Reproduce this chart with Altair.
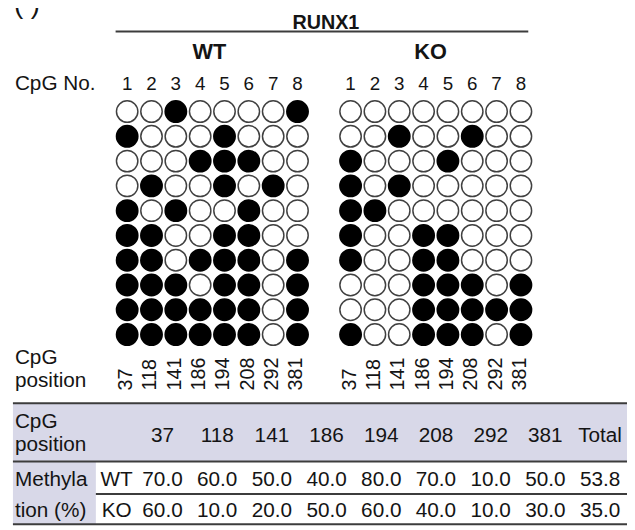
import altair as alt
import pandas as pd

# ---------------- data ----------------
gene = "RUNX1"
groups = ["WT", "KO"]
cpg_no = [1, 2, 3, 4, 5, 6, 7, 8]
cpg_position = ["37", "118", "141", "186", "194", "208", "292", "381"]
# one string per sequenced clone, 1 = methylated CpG (filled), 0 = unmethylated (open)
wt_clones = ["00100001", "10001000", "00011100", "01001010", "10100100",
             "11001100", "11011101", "11101101", "11111101", "11111101"]
ko_clones = ["00000000", "00100100", "10001000", "10100000", "11000000",
             "10011000", "10011000", "00011101", "00011111", "10011101"]
wt_methylation = [70.0, 60.0, 50.0, 40.0, 80.0, 70.0, 10.0, 50.0]
ko_methylation = [60.0, 10.0, 20.0, 50.0, 60.0, 40.0, 10.0, 30.0]
wt_total = 53.8
ko_total = 35.0

# ---------------- layout ----------------
W, H = 627, 522
OFF = 8  # page margin: reference pixel -> chart pixel


def P(v):
    return v - OFF


FONT = "Liberation Sans"
INK = "#141414"
LAV = "#d8d8e8"
LINE = "#3c3c3c"

XS = alt.Scale(domain=[0, W], range=[0, W], nice=False, zero=False)
YS = alt.Scale(domain=[0, H], range=[0, H], nice=False, zero=False)

dot_x0 = {"WT": 128.7, "KO": 355.0}
DX, DY = 24.65, 25.1
DOT_Y0 = 109.5
TAB_X0, TAB_DX = 164.5, 55.4


def xy(extra=None):
    d = dict(x=alt.X("x:Q", scale=XS, axis=None), y=alt.Y("y:Q", scale=YS, axis=None))
    if extra:
        d.update(extra)
    return d


# dots
dot_rows = []
for g, clones in (("WT", wt_clones), ("KO", ko_clones)):
    for j, pat in enumerate(clones):
        for i, ch in enumerate(pat):
            dot_rows.append(dict(group=g, cpg=cpg_no[i], clone=j + 1, m=int(ch),
                                 x=P(dot_x0[g] + i * DX), y=P(DOT_Y0 + j * DY)))
dots_df = pd.DataFrame(dot_rows)

num_rows, pos_rows = [], []
for g in groups:
    for i, n in enumerate(cpg_no):
        num_rows.append(dict(x=P(dot_x0[g] + i * DX), y=P(88), text=str(n)))
        pos_rows.append(dict(x=P(dot_x0[g] + i * DX - 1), y=P(392), text=cpg_position[i]))
num_df = pd.DataFrame(num_rows)
pos_df = pd.DataFrame(pos_rows)

# table
hdr = cpg_position + ["Total"]
tab_hdr_df = pd.DataFrame([dict(x=P(TAB_X0 + i * TAB_DX), y=P(444), text=t) for i, t in enumerate(hdr)])
val_rows = []
for g, vals, tot, yb in (("WT", wt_methylation, wt_total, 489), ("KO", ko_methylation, ko_total, 520)):
    for i, v in enumerate(vals + [tot]):
        val_rows.append(dict(group=g, x=P(TAB_X0 + i * TAB_DX), y=P(yb), v=v))
val_df = pd.DataFrame(val_rows)
rowlab_df = pd.DataFrame([dict(x=P(118), y=P(489), text="WT"), dict(x=P(118), y=P(520), text="KO")])

left_df = pd.DataFrame([
    dict(x=P(15), y=P(88), text="CpG No."),
    dict(x=P(15), y=P(365), text="CpG"),
    dict(x=P(15), y=P(389), text="position"),
    dict(x=P(15), y=P(430), text="CpG"),
    dict(x=P(15), y=P(453), text="position"),
    dict(x=P(15), y=P(489), text="Methyla"),
    dict(x=P(15), y=P(520), text="tion (%)"),
])

title_df = pd.DataFrame([dict(x=P(330), y=P(26), text=gene)])
grp_df = pd.DataFrame([dict(x=P(212), y=P(56), text="WT"), dict(x=P(436), y=P(56), text="KO")])
panel_df = pd.DataFrame([dict(x=P(14), y=P(10), text="( )")])

rect_df = pd.DataFrame([
    dict(x=P(13), x2=P(640), y=P(405), y2=P(464)),
    dict(x=P(13), x2=P(97), y=P(464), y2=P(528)),
])
rule_df = pd.DataFrame([
    dict(x=P(117), x2=P(535), y=P(28.5)),
    dict(x=P(13), x2=P(640), y=P(405)),
    dict(x=P(13), x2=P(640), y=P(464)),
    dict(x=P(97), x2=P(640), y=P(497)),
    dict(x=P(13), x2=P(640), y=P(527.5)),
])

rects = alt.Chart(rect_df).mark_rect(color=LAV).encode(**xy({"x2": "x2:Q", "y2": "y2:Q"}))
rules = alt.Chart(rule_df).mark_rule(color=LINE, strokeWidth=2).encode(**xy({"x2": "x2:Q"}))

txt = dict(font=FONT, color=INK, baseline="alphabetic")
panel = alt.Chart(panel_df).mark_text(fontSize=28, align="left", **txt).encode(**xy({"text": "text:N"}))
title = alt.Chart(title_df).mark_text(fontSize=20, fontWeight="bold", align="center", **txt).encode(**xy({"text": "text:N"}))
grp = alt.Chart(grp_df).mark_text(fontSize=22, fontWeight="bold", align="center", **txt).encode(**xy({"text": "text:N"}))
left = alt.Chart(left_df).mark_text(fontSize=21, align="left", **txt).encode(**xy({"text": "text:N"}))
nums = alt.Chart(num_df).mark_text(fontSize=19, align="center", **txt).encode(**xy({"text": "text:N"}))
pos = alt.Chart(pos_df).mark_text(fontSize=20, align="left", angle=270, font=FONT, color=INK,
                                  baseline="middle").encode(**xy({"text": "text:N"}))
tab_hdr = alt.Chart(tab_hdr_df).mark_text(fontSize=21, align="center", **txt).encode(**xy({"text": "text:N"}))
vals = alt.Chart(val_df).mark_text(fontSize=21, align="center", **txt).encode(
    **xy({"text": alt.Text("v:Q", format=".1f")}))
rowlab = alt.Chart(rowlab_df).mark_text(fontSize=21, align="center", **txt).encode(**xy({"text": "text:N"}))

dots = alt.Chart(dots_df).mark_point(shape="circle", filled=True, size=470, strokeWidth=1.5, opacity=1).encode(
    **xy({
        "fill": alt.Fill("m:N", scale=alt.Scale(domain=[0, 1], range=["#ffffff", "#000000"]), legend=None),
        "stroke": alt.Stroke("m:N", scale=alt.Scale(domain=[0, 1], range=["#404040", "#000000"]), legend=None),
    })
)

chart = alt.layer(rects, rules, panel, title, grp, left, nums, pos, tab_hdr, vals, rowlab, dots).properties(
    width=W, height=H, padding=0, autosize=alt.AutoSizeParams(type="none")
).configure_view(stroke=None)

chart.save("out.html", embed_options={"renderer": "svg", "actions": False})
